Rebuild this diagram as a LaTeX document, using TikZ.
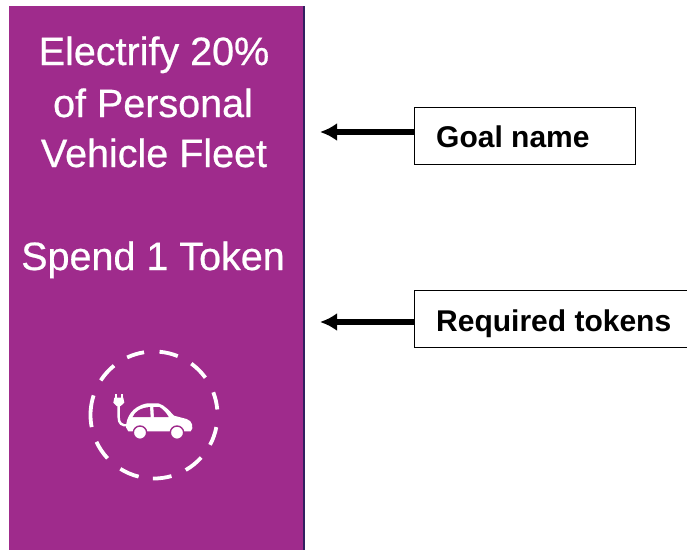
\documentclass[tikz,border=0pt]{standalone}
\usepackage{fontspec}
\setmainfont{Liberation Sans}
\newfontfamily\paneltype[FakeBold=0.6]{Liberation Sans}
\definecolor{goalpurple}{HTML}{9F2B8C}
\definecolor{edgeblue}{HTML}{30205F}
\usetikzlibrary{arrows.meta,calc}
\tikzset{
  paneltext/.style={text=white,anchor=base,inner sep=0pt,font=\paneltype\fontsize{39.5}{44}\selectfont},
  labelbox/.style={draw=black,line width=1pt,fill=white,anchor=north west,minimum height=57pt,inner sep=0pt},
  labeltext/.style={anchor=base west,inner sep=0pt,font=\fontsize{30}{34}\selectfont\bfseries},
  pointer/.style={line width=5.6pt,-{Latex[length=17pt,width=18pt]}},
  dashring/.style={draw=white,line width=3.8pt}
}
\begin{document}
\begin{tikzpicture}[x=1pt,y=-1pt]
\useasboundingbox (0,0) rectangle (687,550);
\fill[edgeblue] (303,6) rectangle (305,550);
\node[fill=goalpurple,anchor=north west,minimum width=294pt,minimum height=544pt,inner sep=0pt] (panel) at (9,6) {};
\node[paneltext] (t1) at (154,65) {Electrify 20\%};
\node[paneltext] (t2) at (153,117) {of Personal};
\node[paneltext] (t3) at (154,167) {Vehicle Fleet};
\node[paneltext] (t4) at (153,270) {Spend 1 Token};
% ring
\coordinate (ring) at (154,415);
\foreach \a/\b in {115/99,85/68,54/36,21/5,-11/-28,-42/-60,-74/-91,-104/-122,-137/-155,-169/-198,-213/-231}{
  \draw[dashring] ([shift={(-\a:63.5)}]ring) arc (-\a:-\b:63.5);
}
% car
\begin{scope}[shift={(60,320)},x=0.3333pt,y=-0.3333pt]
  \fill[white] (198,322) .. controls (198,295) and (215,258) .. (262,250) -- (295,250)
     .. controls (315,255) and (330,275) .. (342,287) -- (380,297)
     .. controls (398,302) and (402,325) .. (392,334) -- (205,334) -- cycle;
  \fill[goalpurple] (218,291) .. controls (225,275) and (240,264) .. (270,261) -- (272,291) -- cycle;
  \fill[goalpurple] (280,261) -- (298,261) .. controls (310,268) and (320,280) .. (326,291) -- (282,291) -- cycle;
  \fill[white,draw=goalpurple,line width=1.4pt] (240,338) circle (20);
  \fill[white,draw=goalpurple,line width=1.4pt] (351,338) circle (20);
  \draw[white,line width=2.4pt] (176,250) -- (176,292) .. controls (176,310) and (185,318) .. (205,316);
  \fill[white] (163,233) -- (190,233) -- (193,248) -- (182,258) -- (170,258) -- (160,248) -- cycle;
  \fill[white] (166,222) rectangle (172,235);
  \fill[white] (183,222) rectangle (189,235);
\end{scope}
% labels
\node[labelbox,minimum width=221pt] (goal) at (414,107) {};
\node[labelbox,minimum width=272.5pt] (req) at (414,290) {};
\node[labeltext] (goalt) at (436,147) {Goal name};
\node[labeltext] (reqt) at (436,331) {Required tokens};
\coordinate (gtip) at (320,132);
\coordinate (rtip) at (320,322);
\draw[pointer] (goal.west |- gtip) -- (gtip);
\draw[pointer] (req.west |- rtip) -- (rtip);
\end{tikzpicture}
\end{document}
